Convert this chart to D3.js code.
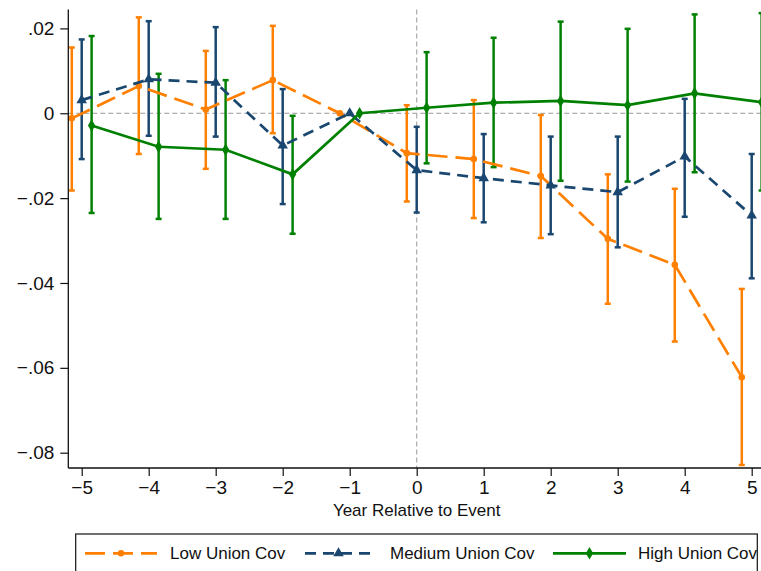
<!DOCTYPE html>
<html>
<head>
<meta charset="utf-8">
<script src="https://cdn.jsdelivr.net/npm/d3@7"></script>
<style>
  body { margin:0; background:#fff; }
  svg { display:block; font-family:"Liberation Sans", Arial, Helvetica, sans-serif; }
</style>
</head>
<body>
<div id="chart"></div>
<script>
// event-study coefficients
const years = [-5,-4,-3,-2,-1,0,1,2,3,4,5];
const xTicks = [-5,-4,-3,-2,-1,0,1,2,3,4,5];
const yTicks = [0.02,0,-0.02,-0.04,-0.06,-0.08];

const lowCoef = [-0.0012,0.0064,0.0009,0.0078,0,-0.0094,-0.0108,-0.0148,-0.0296,-0.0357,-0.0622];
const lowHi   = [0.0155,0.0226,0.0147,0.0206,null,0.0019,0.0031,-0.0004,-0.0144,-0.0178,-0.0414];
const lowLo   = [-0.0182,-0.0096,-0.0131,-0.0047,null,-0.0208,-0.0247,-0.0294,-0.0449,-0.0538,-0.0829];

const medCoef = [0.0031,0.0080,0.0072,-0.0076,0,-0.0134,-0.0153,-0.0170,-0.0186,-0.0102,-0.0241];
const medHi   = [0.0174,0.0217,0.0203,0.0057,null,-0.0032,-0.0049,-0.0055,-0.0055,0.0034,-0.0096];
const medLo   = [-0.0108,-0.0053,-0.0055,-0.0214,null,-0.0234,-0.0257,-0.0285,-0.0316,-0.0244,-0.0389];

const highCoef = [-0.0029,-0.0079,-0.0086,-0.0144,0,0.0013,0.0025,0.0029,0.0019,0.0047,0.0026];
const highHi   = [0.0182,0.0093,0.0078,-0.0006,null,0.0144,0.0178,0.0216,0.0199,0.0233,0.0236];
const highLo   = [-0.0235,-0.0249,-0.0249,-0.0284,null,-0.0118,-0.0127,-0.0159,-0.0161,-0.0139,-0.0182];

const seriesNames = ["Low Union Cov","Medium Union Cov","High Union Cov"];

const W = 761, H = 571;
const svg = d3.select('#chart').append('svg').attr('width',W).attr('height',H);

const x = d3.scaleLinear().domain([-5,5]).range([81.7,751.7]);
const y = d3.scaleLinear().domain([-0.08,0.02]).range([452.7,28.4]);
const plotL = x(-5.2), plotR = x(5.2), plotT = 9.5, plotB = 468;

const series = [
  {name:seriesNames[0], coef:lowCoef, lo:lowLo, hi:lowHi, color:'#ff8000', dash:'20,8', off:-0.148, sym:d3.symbolCircle, size:34},
  {name:seriesNames[1], coef:medCoef, lo:medLo, hi:medHi, color:'#1a476f', dash:'11,7', off:0, sym:d3.symbolTriangle, size:48},
  {name:seriesNames[2], coef:highCoef, lo:highLo, hi:highHi, color:'#008000', dash:null, off:0.148, sym:d3.symbolDiamond, size:46}
];

// reference lines
svg.append('line').attr('x1',plotL).attr('x2',plotR).attr('y1',y(0)).attr('y2',y(0))
  .attr('stroke','#999').attr('stroke-width',1).attr('stroke-dasharray','5,3');
svg.append('line').attr('x1',x(0)).attr('x2',x(0)).attr('y1',plotT).attr('y2',plotB)
  .attr('stroke','#aaa').attr('stroke-width',1.2).attr('stroke-dasharray','5,3');

// error bars
series.forEach(s=>{
  const g = svg.append('g');
  const ci = years.map((yr,i)=>({x:yr+s.off, lo:s.lo[i], hi:s.hi[i]})).filter(d=>d.lo!==null);
  g.selectAll('.bar').data(ci).enter().append('line')
    .attr('x1',d=>x(d.x)).attr('x2',d=>x(d.x)).attr('y1',d=>y(d.lo)).attr('y2',d=>y(d.hi))
    .attr('stroke',s.color).attr('stroke-width',2.5);
  ['lo','hi'].forEach(k=>{
    g.selectAll('.cap'+k).data(ci).enter().append('line')
      .attr('x1',d=>x(d.x)-3).attr('x2',d=>x(d.x)+3).attr('y1',d=>y(d[k])).attr('y2',d=>y(d[k]))
      .attr('stroke',s.color).attr('stroke-width',2.5);
  });
});

// connected lines + markers
series.forEach(s=>{
  const pts = years.map((yr,i)=>({x:yr+s.off, v:s.coef[i]}));
  const line = d3.line().x(d=>x(d.x)).y(d=>y(d.v));
  svg.append('path').datum(pts).attr('d',line).attr('fill','none')
    .attr('stroke',s.color).attr('stroke-width',2.7)
    .attr('stroke-dasharray',s.dash);
  svg.selectAll(null).data(pts).enter().append('path')
    .attr('d',d3.symbol().type(s.sym).size(s.size))
    .attr('transform',d=>`translate(${x(d.x)},${y(d.v)})`)
    .attr('fill',s.color);
});

// axes
const fmtY = d => d===0 ? '0' : (d<0?'\u2212':'') + Math.abs(d).toFixed(2).replace(/^0/,'');
const fmtX = d => (d<0?'\u2212':'') + Math.abs(d);

const yAxis = svg.append('g').attr('transform',`translate(${plotL},0)`)
  .call(d3.axisLeft(y).tickValues(yTicks).tickFormat(fmtY).tickSize(8).tickPadding(6));
yAxis.select('.domain').attr('d',`M0,${plotT}V${plotB}`).attr('stroke','#111').attr('stroke-width',1.3);

const xAxis = svg.append('g').attr('transform',`translate(0,${plotB})`)
  .call(d3.axisBottom(x).tickValues(xTicks).tickFormat(fmtX).tickSize(8).tickPadding(5));
xAxis.select('.domain').attr('d',`M${plotL},0H${plotR}`).attr('stroke','#111').attr('stroke-width',1.3);

[yAxis,xAxis].forEach(a=>{
  a.selectAll('.tick line').attr('stroke','#111').attr('stroke-width',1.2);
  a.selectAll('.tick text').attr('fill','#111').style('font-size','19px');
});

svg.append('text').attr('x',x(0)).attr('y',516).attr('text-anchor','middle')
  .style('font-size','17px').attr('fill','#111').text('Year Relative to Event');

// legend
svg.append('rect').attr('x',75.7).attr('y',534).attr('width',757.3-75.7).attr('height',60)
  .attr('fill','#fff').attr('stroke','#111').attr('stroke-width',1.2);
const legX = [[85,157,170],[305,372,390],[553,626,638]];
const legY = 553.3;
series.forEach((s,i)=>{
  const [a,b,t] = legX[i];
  svg.append('line').attr('x1',a).attr('x2',b).attr('y1',legY).attr('y2',legY)
    .attr('stroke',s.color).attr('stroke-width',2.7).attr('stroke-dasharray',s.dash);
  svg.append('path').attr('d',d3.symbol().type(s.sym).size(s.size))
    .attr('transform',`translate(${(a+b)/2},${legY})`).attr('fill',s.color);
  svg.append('text').attr('x',t).attr('y',legY).attr('dy','0.35em')
    .style('font-size','17px').attr('fill','#111').text(s.name);
});
</script>
</body>
</html>
